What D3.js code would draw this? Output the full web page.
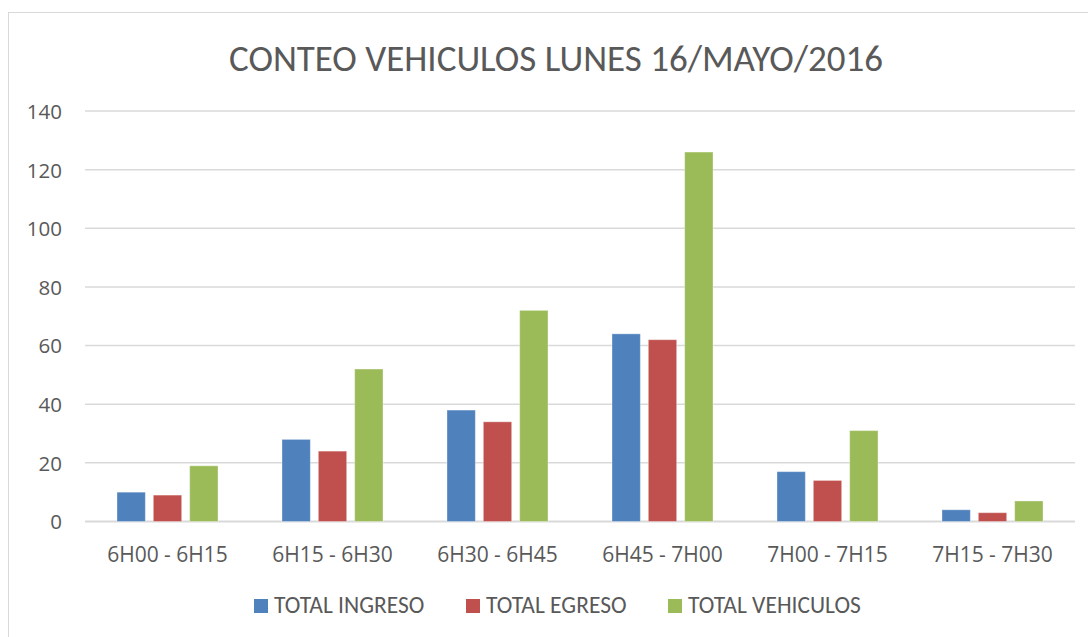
<!DOCTYPE html>
<html>
<head>
<meta charset="utf-8">
<script src="https://cdn.jsdelivr.net/npm/d3@7"></script>
<style>
  body { margin:0; background:#fff; }
  text { font-family: Carlito, Calibri, "Open Sans", "Noto Sans", sans-serif; fill:#595959; }
</style>
</head>
<body>
<script>

//******************************************************************************
// Data ************************************************************************

    var categories = ["6H00 - 6H15","6H15 - 6H30","6H30 - 6H45","6H45 - 7H00","7H00 - 7H15","7H15 - 7H30"];
    var seriesNames = ["TOTAL INGRESO","TOTAL EGRESO","TOTAL VEHICULOS"];
    var totalIngreso = [10, 28, 38, 64, 17, 4];
    var totalEgreso = [9, 24, 34, 62, 14, 3];
    var totalVehiculos = [19, 52, 72, 126, 31, 7];
    var yTicks = [0, 20, 40, 60, 80, 100, 120, 140];

    var colors = ["#4f81bd", "#c0504d", "#9bbb59"];

//******************************************************************************
// Settings ********************************************************************

    var chartSettings = {
        width : 1088,
        height : 637,
        plotLeft : 85,
        plotRight : 1075,
        plotTop : 111,
        plotBottom : 521.5,
    };

//******************************************************************************
// Initialization **************************************************************

    var svg = d3.select("body").append("svg")
        .attr("width", chartSettings.width)
        .attr("height", chartSettings.height);

    svg.append("rect") // chart frame
        .attr("x", 8.5).attr("y", 12.5)
        .attr("width", 1100).attr("height", 640)
        .attr("fill", "none")
        .attr("stroke", "#d9d9d9");

    var series = [totalIngreso, totalEgreso, totalVehiculos];

    var x0 = d3.scaleBand()
        .domain(categories)
        .range([chartSettings.plotLeft, chartSettings.plotRight]);

    var x1 = d3.scaleBand()
        .domain(d3.range(series.length))
        .range([32, x0.bandwidth() - 32])
        .paddingInner(0.22);

    var y = d3.scaleLinear()
        .domain([0, 140])
        .range([chartSettings.plotBottom, chartSettings.plotTop]);

//******************************************************************************
// Prog ************************************************************************

    // grid lines
    svg.append("g")
        .selectAll("line")
        .data(yTicks)
        .join("line")
        .attr("x1", chartSettings.plotLeft)
        .attr("x2", chartSettings.plotRight)
        .attr("y1", d => y(d))
        .attr("y2", d => y(d))
        .attr("stroke", "#d9d9d9")
        .attr("stroke-width", d => d === 0 ? 2 : 1.5);

    // y axis labels
    var yAxis = svg.append("g")
        .attr("transform", "translate(" + (chartSettings.plotLeft - 23) + ",0)")
        .call(d3.axisLeft(y).tickValues(yTicks).tickSize(0).tickPadding(0));
    yAxis.select(".domain").remove();
    yAxis.selectAll("text")
        .attr("dy", "0.36em")
        .style("font-size", "20.5px")
        .style("font-family", "'Open Sans', sans-serif")
        .attr("fill", "#595959");

    // x axis labels
    var xAxis = svg.append("g")
        .attr("transform", "translate(0," + (chartSettings.plotBottom + 40) + ")")
        .call(d3.axisBottom(x0).tickSize(0).tickPadding(0));
    xAxis.select(".domain").remove();
    xAxis.selectAll("text")
        .attr("dy", "0")
        .style("font-size", "21px")
        .style("font-family", "'Open Sans', sans-serif")
        .attr("fill", "#595959");

    // bars
    var groups = svg.append("g")
        .selectAll("g")
        .data(categories)
        .join("g")
        .attr("transform", d => "translate(" + x0(d) + ",0)");

    groups.selectAll("rect")
        .data((d, i) => series.map((s, k) => ({k: k, v: s[i]})))
        .join("rect")
        .attr("x", d => x1(d.k))
        .attr("y", d => y(d.v))
        .attr("width", x1.bandwidth())
        .attr("height", d => y(0) - y(d.v))
        .attr("fill", d => colors[d.k])
        .attr("stroke", "#ffffff")
        .attr("stroke-opacity", 0.35)
        .attr("stroke-width", 1);

    // title
    svg.append("text")
        .attr("x", 556)
        .attr("y", 71)
        .attr("text-anchor", "middle")
        .style("font-size", "37px")
        .text("CONTEO VEHICULOS LUNES 16/MAYO/2016");

    // legend
    var legendX = [254, 466, 668];
    var legend = svg.append("g")
        .selectAll("g")
        .data(seriesNames)
        .join("g")
        .attr("transform", (d, i) => "translate(" + legendX[i] + ",599)");

    legend.append("rect")
        .attr("width", 14).attr("height", 14)
        .attr("fill", (d, i) => colors[i]);

    legend.append("text")
        .attr("x", 20)
        .attr("y", 14)
        .style("font-size", "23.5px")
        .text(d => d);

</script>
</body>
</html>
